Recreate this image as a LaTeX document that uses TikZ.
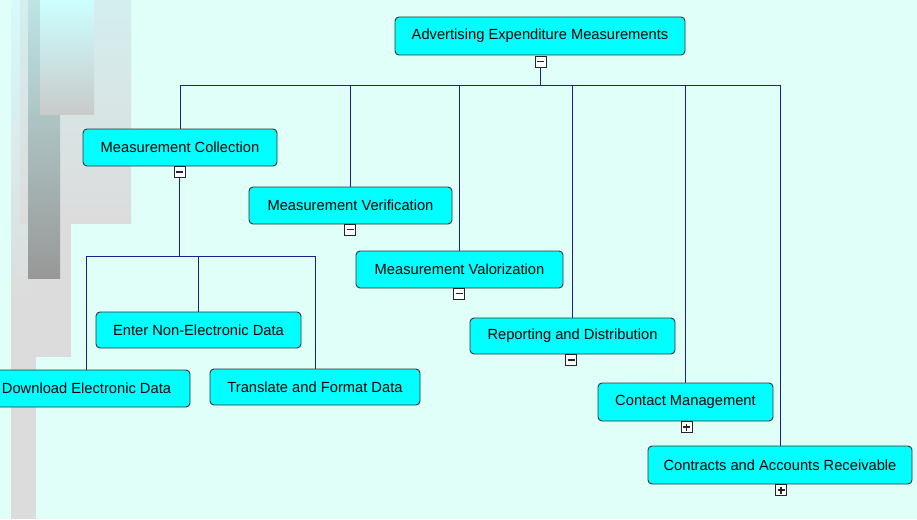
\documentclass[tikz,border=0pt]{standalone}
\usepackage{fontspec}
\setmainfont{Liberation Sans}
\definecolor{bgc}{RGB}{224,255,248}
\definecolor{linec}{RGB}{30,30,140}
\definecolor{boxc}{RGB}{0,255,255}
\definecolor{edgec}{RGB}{50,50,50}
\definecolor{eTop}{RGB}{215,250,250}
\definecolor{gGrey}{RGB}{220,220,220}
\definecolor{aTop}{RGB}{212,238,238}
\definecolor{cTop}{RGB}{190,228,228}
\definecolor{cBot}{RGB}{152,152,152}
\definecolor{bTop}{RGB}{204,255,255}
\definecolor{bBot}{RGB}{202,202,202}
\begin{document}
\begin{tikzpicture}[x=1pt,y=-1pt,
  nodebox/.style={draw=edgec, fill=boxc, rounded corners=4pt, line width=0.9pt, inner sep=0pt,
    font=\fontsize{14.7}{17}\selectfont, text=black},
  conn/.style={draw=linec, line width=0.9pt},
  signbox/.style={draw=black!85, fill=white, minimum size=11pt, inner sep=0pt, line width=0.8pt},
  signminus/.style={signbox, path picture={\draw[line width=1.3pt] ([xshift=-3.5pt]path picture bounding box.center) -- ([xshift=3.5pt]path picture bounding box.center);}},
  signplus/.style={signbox, path picture={\draw[line width=1.1pt] ([xshift=-3.5pt]path picture bounding box.center) -- ([xshift=3.5pt]path picture bounding box.center) ([yshift=-3.5pt]path picture bounding box.center) -- ([yshift=3.5pt]path picture bounding box.center);}}
]
\useasboundingbox (0,0) rectangle (917,519);
\fill[bgc] (0,0) rectangle (917,519);
% decorative background
\shade[top color=eTop, bottom color=gGrey] (11,0) rectangle (36,300);
\fill[gGrey] (11,299.5) rectangle (36,519);
\shade[top color=aTop, bottom color=gGrey] (20,0) rectangle (131,223);
\fill[gGrey] (31,223) rectangle (71,357);
\shade[top color=cTop, bottom color=cBot] (28,0) rectangle (60,278);
\shade[top color=bTop, bottom color=bBot] (40,0) rectangle (94,114);

% nodes
\node[nodebox, minimum width=290pt, minimum height=38pt] (root) at (540,36) {Advertising Expenditure Measurements};
\node[nodebox, minimum width=194pt, minimum height=37pt] (mc) at (180,147.5) {Measurement Collection};
\node[nodebox, minimum width=203pt, minimum height=37pt] (mv) at (350.5,205.5) {Measurement Verification};
\node[nodebox, minimum width=207pt, minimum height=37pt] (mval) at (459.5,269.5) {Measurement Valorization};
\node[nodebox, minimum width=205pt, minimum height=36pt] (rd) at (572.5,336) {Reporting and Distribution};
\node[nodebox, minimum width=175pt, minimum height=38pt] (cm) at (685.5,402) {Contact Management};
\node[nodebox, minimum width=264pt, minimum height=38pt] (car) at (780,465) {Contracts and Accounts Receivable};
\node[nodebox, minimum width=205pt, minimum height=36pt] (ene) at (198.5,330) {Enter Non-Electronic Data};
\node[nodebox, minimum width=207pt, minimum height=37pt] (ded) at (86.5,388.5) {Download Electronic Data};
\node[nodebox, minimum width=210pt, minimum height=36pt] (tfd) at (315,387) {Translate and Format Data};

% sign boxes (positions)
\coordinate (s0) at (540.5,61.5);
\coordinate (s1) at (179.5,172);
\coordinate (j0) at (540.5,85);
\coordinate (j1) at (179.5,256);

% connectors
\draw[conn] (s0) -- (j0);
\draw[conn] (j0 -| mc.north) -- (j0 -| car.north);
\draw[conn] (j0 -| mc.north) -- (mc.north);
\draw[conn] (j0 -| mv.north) -- (mv.north);
\draw[conn] (j0 -| mval.north) -- (mval.north);
\draw[conn] (j0 -| rd.north) -- (rd.north);
\draw[conn] (j0 -| cm.north) -- (cm.north);
\draw[conn] (j0 -| car.north) -- (car.north);
\draw[conn] (s1) -- (j1);
\draw[conn] (j1 -| ded.north) -- (j1 -| tfd.north);
\draw[conn] (j1 -| ded.north) -- (ded.north);
\draw[conn] (j1 -| ene.north) -- (ene.north);
\draw[conn] (j1 -| tfd.north) -- (tfd.north);

% sign boxes
\node[signminus] (sg0) at (s0) {};
\node[signminus] (sg1) at (s1) {};
\node[signminus] (sg2) at (350,229.5) {};
\node[signminus] (sg3) at (459,293.5) {};
\node[signminus] (sg4) at (571,360) {};
\node[signplus] (sg5) at (686.5,427) {};
\node[signplus] (sg6) at (781,490) {};
\end{tikzpicture}
\end{document}
